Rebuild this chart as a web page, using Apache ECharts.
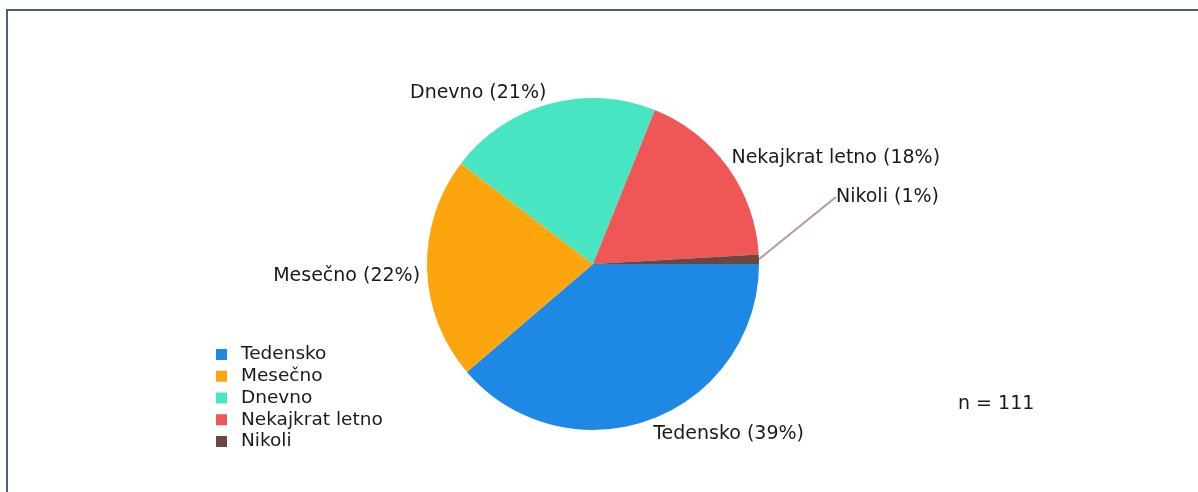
<!DOCTYPE html>
<html>
<head>
<meta charset="utf-8">
<script src="https://cdn.jsdelivr.net/npm/echarts@6/dist/echarts.min.js"></script>
<style>
html, body { margin: 0; padding: 0; background: #fff; overflow: hidden; }
.frame {
	position: absolute;
	left: 6px;
	top: 9px;
	width: 1300px;
	height: 600px;
	border-left: 2px solid #4b5f7d;
	border-top: 2px solid #4b5f7d;
}
#main { position: absolute; left: 0; top: 0; width: 1198px; height: 492px; }
</style>
</head>
<body>
<div class="frame"></div>
<div id="main"></div>
<script>
// odgovori
const categories = ['Tedensko', 'Mesečno', 'Dnevno', 'Nekajkrat letno', 'Nikoli'];
const counts = [43, 24, 23, 20, 1];
const percents = [39, 22, 21, 18, 1];
const colors = ['#1e88e5', '#fca50c', '#48e5c2', '#ef5656', '#6d4640'];
const total = 111;

const FONT = 'DejaVu Sans';
// navpicni zamik napisov (da sedijo kot v originalu)
const labelShiftY = [12, 7, -9, -8, -62];

const pieData = categories.map((name, i) => {
	const item = {
		name: name,
		value: counts[i],
		itemStyle: { color: colors[i] }
	};
	if (i === 1) {
		item.labelLine = { length: 5 };
	}
	if (i === 4) {
		item.labelLine = {
			show: true,
			length: 12,
			lineStyle: { color: '#b49a98', width: 2 }
		};
	}
	return item;
});

const chart = echarts.init(document.getElementById('main'));
chart.setOption({
	animation: false,
	legend: {
		orient: 'vertical',
		left: 211,
		top: 340,
		itemWidth: 11,
		itemHeight: 11,
		itemGap: 2.75,
		icon: 'rect',
		textStyle: { fontFamily: FONT, fontSize: 18.5, lineHeight: 19, color: '#1a1a1a', padding: [0, 0, 0, 9] },
		data: categories
	},
	graphic: [{
		type: 'text',
		left: 958,
		top: 395,
		style: { text: 'n = ' + total, font: '19px "DejaVu Sans"', fill: '#1a1a1a' }
	}],
	series: [{
		type: 'pie',
		center: [593, 264],
		radius: 166,
		startAngle: 0,
		clockwise: true,
		avoidLabelOverlap: false,
		data: pieData,
		label: {
			position: 'outside',
			fontFamily: FONT,
			fontSize: 19,
			color: '#1a1a1a',
			distanceToLabelLine: 2,
			formatter: p => p.name + ' (' + percents[p.dataIndex] + '%)'
		},
		labelLine: {
			show: false,
			length: 2,
			length2: 0
		},
		labelLayout: function (params) {
			const r = params.labelRect;
			const out = { y: r.y + r.height / 2 + labelShiftY[params.dataIndex] };
			if (params.dataIndex === 4) {
				out.x = r.x + 63;
			}
			return out;
		}
	}]
});
</script>
</body>
</html>
